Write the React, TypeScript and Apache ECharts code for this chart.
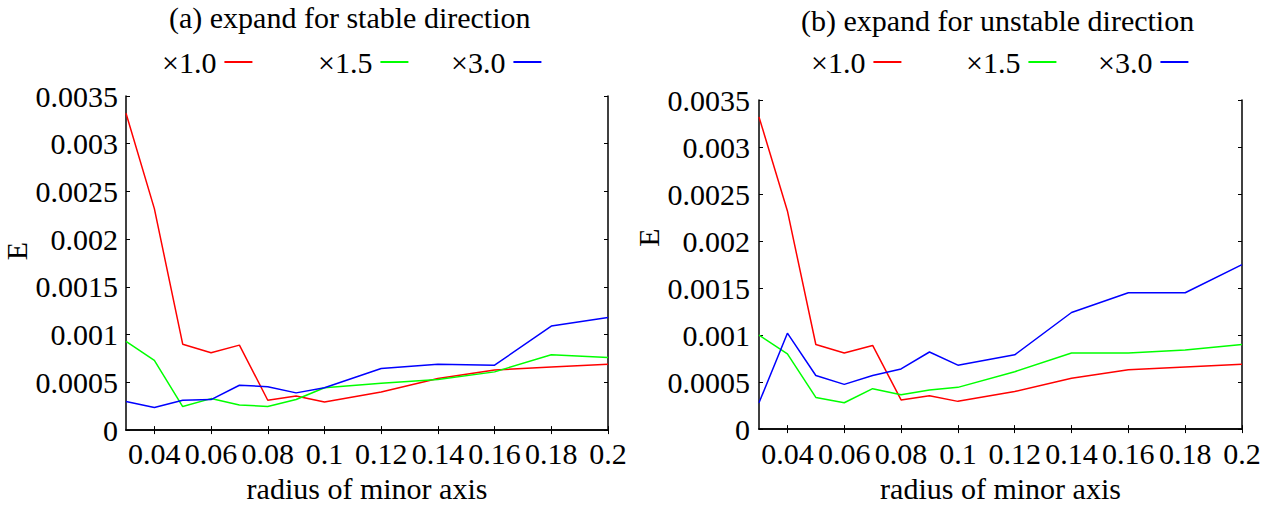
import React, { useEffect, useRef } from "react";
import * as echarts from "echarts";

const radius = [0.03, 0.04, 0.05, 0.06, 0.07, 0.08, 0.09, 0.1, 0.12, 0.14, 0.16, 0.18, 0.2];
const xTicks = [0.04, 0.06, 0.08, 0.1, 0.12, 0.14, 0.16, 0.18, 0.2];
const seriesNames = ["×1.0", "×1.5", "×3.0"];
const colors = ["#ff0000", "#00ff00", "#0000ff"];

// (a) expand for stable direction
const stableX10 = [0.00332, 0.00232, 0.0009, 0.00081, 0.00089, 0.000313, 0.000358, 0.000295, 0.0004, 0.00054, 0.00063, 0.00066, 0.00069];
const stableX15 = [0.00093, 0.00073, 0.000247, 0.00033, 0.000264, 0.000247, 0.00032, 0.000444, 0.00049, 0.00053, 0.00061, 0.00079, 0.00076];
const stableX30 = [0.0003, 0.000236, 0.000313, 0.00032, 0.00047, 0.000455, 0.00039, 0.000444, 0.000646, 0.00069, 0.00068, 0.00109, 0.00118];

// (b) expand for unstable direction
const unstableX10 = [0.00332, 0.00232, 0.0009, 0.00081, 0.00089, 0.00031, 0.000354, 0.000295, 0.0004, 0.00054, 0.00063, 0.00066, 0.00069];
const unstableX15 = [0.001, 0.0008, 0.000337, 0.00028, 0.00043, 0.000365, 0.000417, 0.000444, 0.00061, 0.00081, 0.00081, 0.00084, 0.0009];
const unstableX30 = [0.00028, 0.00102, 0.00057, 0.000476, 0.00057, 0.00064, 0.00082, 0.00068, 0.00079, 0.00124, 0.00145, 0.00145, 0.00175];

const titles = ["(a) expand for stable direction", "(b) expand for unstable direction"];
const xName = "radius of minor axis";
const yName = "E";

const FONT = '"Liberation Serif", "Times New Roman", serif';
const FS = 30;

function pairs(ys: number[]) {
  return radius.map((x, i) => [x, ys[i]]);
}

export default function App() {
  const ref = useRef<HTMLDivElement>(null);
  useEffect(() => {
    if (!ref.current) return;
    const chart = echarts.init(ref.current, undefined, { renderer: "svg" });
    const grids = [
      { left: 126, top: 96, width: 482, height: 337 },
      { left: 759, top: 100, width: 483, height: 336 },
    ];
    const axisLine = { show: true, lineStyle: { color: "#000", width: 1.5 } };
    const tickStyle = { show: true, inside: true, length: 4, lineStyle: { color: "#000", width: 1 } };
    const xAxes: any[] = [];
    const yAxes: any[] = [];
    const xNameGaps = [37, 42];
    const xLabelMargins = [8, 9];
    const yLabelMargins = [8, 9];
    const yNameGaps = [91, 88];
    const yNamePads = [[0, 0, 0, 24], [0, 0, 0, 54]];
    [0, 1].forEach((g) => {
      xAxes.push({
        type: "value",
        gridIndex: g,
        position: "bottom",
        min: 0.03,
        max: 0.2,
        name: xName,
        nameLocation: "middle",
        nameGap: xNameGaps[g],
        nameTextStyle: { fontFamily: FONT, fontSize: FS, color: "#000" },
        axisLine,
        axisTick: { ...tickStyle, customValues: xTicks },
        axisLabel: { customValues: xTicks, fontFamily: FONT, fontSize: FS, color: "#000", margin: xLabelMargins[g] },
        splitLine: { show: false },
      });
      xAxes.push({
        type: "value",
        gridIndex: g,
        position: "top",
        min: 0.03,
        max: 0.2,
        axisLine,
        axisTick: { ...tickStyle, customValues: xTicks },
        axisLabel: { show: false },
        splitLine: { show: false },
      });
      yAxes.push({
        type: "value",
        gridIndex: g,
        position: "left",
        min: 0,
        max: 0.0035,
        interval: 0.0005,
        name: yName,
        nameLocation: "middle",
        nameGap: yNameGaps[g],
        nameTextStyle: { fontFamily: FONT, fontSize: FS, color: "#000", padding: yNamePads[g] },
        axisLine,
        axisTick: tickStyle,
        axisLabel: { fontFamily: FONT, fontSize: FS, color: "#000", margin: yLabelMargins[g] },
        splitLine: { show: false },
      });
      yAxes.push({
        type: "value",
        gridIndex: g,
        position: "right",
        min: 0,
        max: 0.0035,
        interval: 0.0005,
        axisLine,
        axisTick: tickStyle,
        axisLabel: { show: false },
        splitLine: { show: false },
      });
    });

    const data = [
      [stableX10, stableX15, stableX30],
      [unstableX10, unstableX15, unstableX30],
    ];
    const series: any[] = [];
    [0, 1].forEach((g) => {
      data[g].forEach((ys, k) => {
        series.push({
          type: "line",
          name: seriesNames[k],
          xAxisIndex: g * 2,
          yAxisIndex: g * 2,
          data: pairs(ys),
          showSymbol: false,
          symbol: "none",
          lineStyle: { color: colors[k], width: 1.5 },
          itemStyle: { color: colors[k] },
        });
      });
    });

    const legendLefts = [
      [162, 318, 451],
      [811, 966, 1098],
    ];
    const legends: any[] = [];
    [0, 1].forEach((g) => {
      seriesNames.forEach((n, k) => {
        legends.push({
          left: legendLefts[g][k],
          top: 47,
          data: [n],
          align: "right",
          icon: "rect",
          itemWidth: 28,
          itemHeight: 2,
          itemGap: 0,
          padding: 0,
          textStyle: { fontFamily: FONT, fontSize: FS, color: "#000", padding: [0, 3, 0, 0] },
        });
      });
    });

    chart.setOption({
      animation: false,
      backgroundColor: "#fff",
      title: [
        { text: titles[0], left: 169, top: 2, padding: 0, textStyle: { fontFamily: FONT, fontSize: FS, fontWeight: "normal", color: "#000" } },
        { text: titles[1], left: 801, top: 5, padding: 0, textStyle: { fontFamily: FONT, fontSize: FS, fontWeight: "normal", color: "#000" } },
      ],
      legend: legends,
      grid: grids,
      xAxis: xAxes,
      yAxis: yAxes,
      series,
    });
    return () => chart.dispose();
  }, []);
  return <div ref={ref} style={{ position: "fixed", left: 0, top: 0, width: 1278, height: 508 }} />;
}
